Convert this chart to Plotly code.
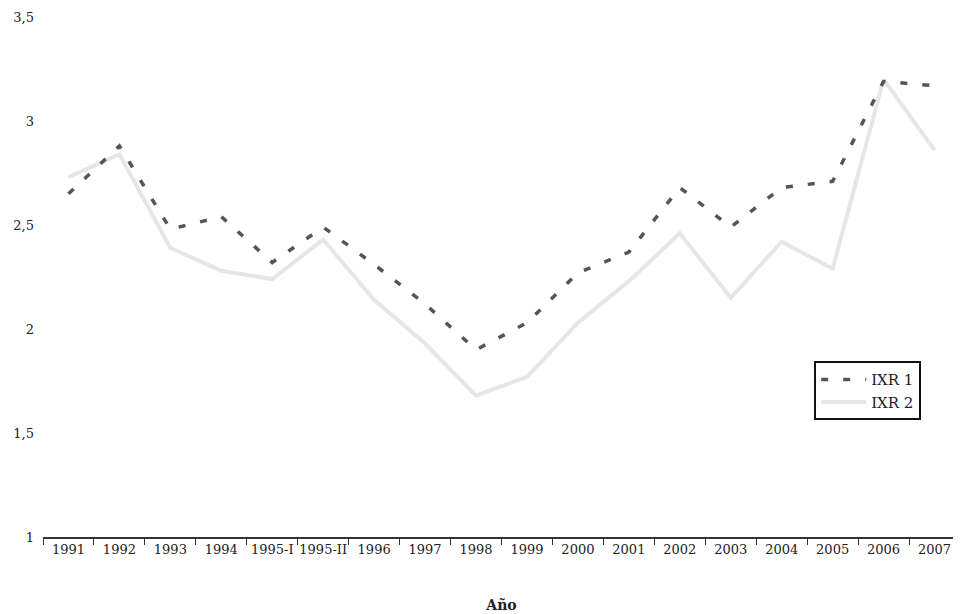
import plotly.graph_objects as go

categories = ["1991", "1992", "1993", "1994", "1995-I", "1995-II", "1996", "1997", "1998",
              "1999", "2000", "2001", "2002", "2003", "2004", "2005", "2006", "2007"]
ixr1 = [2.65, 2.88, 2.48, 2.54, 2.32, 2.49, 2.31, 2.12, 1.90,
        2.03, 2.27, 2.37, 2.68, 2.49, 2.68, 2.71, 3.19, 3.17]
ixr2 = [2.73, 2.84, 2.39, 2.28, 2.24, 2.43, 2.14, 1.93, 1.68,
        1.77, 2.03, 2.23, 2.46, 2.15, 2.42, 2.29, 3.20, 2.86]
ytickvals = [1, 1.5, 2, 2.5, 3, 3.5]
yticktext = ["1", "1,5", "2", "2,5", "3", "3,5"]

font_family = "DejaVu Serif"

fig = go.Figure()
fig.add_trace(go.Scatter(
    x=categories, y=ixr2, mode="lines", name="IXR 2",
    line=dict(color="#e6e6e6", width=4),
))
fig.add_trace(go.Scatter(
    x=categories, y=ixr1, mode="lines", name="IXR 1",
    line=dict(color="#555555", width=3.5, dash="7px,15px"),
))

fig.update_layout(
    width=953, height=606,
    margin=dict(l=35, r=1, t=9, b=77),
    paper_bgcolor="white", plot_bgcolor="white",
    font=dict(family=font_family, size=13, color="#222222"),
    showlegend=True,
    legend=dict(
        x=0.841, y=0.338, xanchor="left", yanchor="top",
        bgcolor="white", bordercolor="#111111", borderwidth=2,
        font=dict(family=font_family, size=15, color="#222222"),
        traceorder="reversed", itemwidth=45,
        tracegroupgap=0,
    ),
    xaxis=dict(
        type="category", categoryorder="array", categoryarray=categories,
        range=[-0.5, len(categories) - 0.5],
        showgrid=False, zeroline=False, automargin=False,
        showline=True, linecolor="#333333", linewidth=1.5,
        ticks="outside", tickson="boundaries", ticklen=6, tickcolor="#333333",
        tickangle=0,
        tickfont=dict(family=font_family, size=13, color="#222222"),
        title=dict(text="<b>Año</b>", font=dict(family=font_family, size=14, color="#222222"),
                   standoff=44),
    ),
    yaxis=dict(
        range=[1, 3.5], tickvals=ytickvals, ticktext=yticktext,
        showgrid=False, zeroline=False, showline=False, automargin=False,
        ticks="", ticklabelstandoff=8,
        tickfont=dict(family=font_family, size=13, color="#222222"),
    ),
)

fig.write_html("out.html")
